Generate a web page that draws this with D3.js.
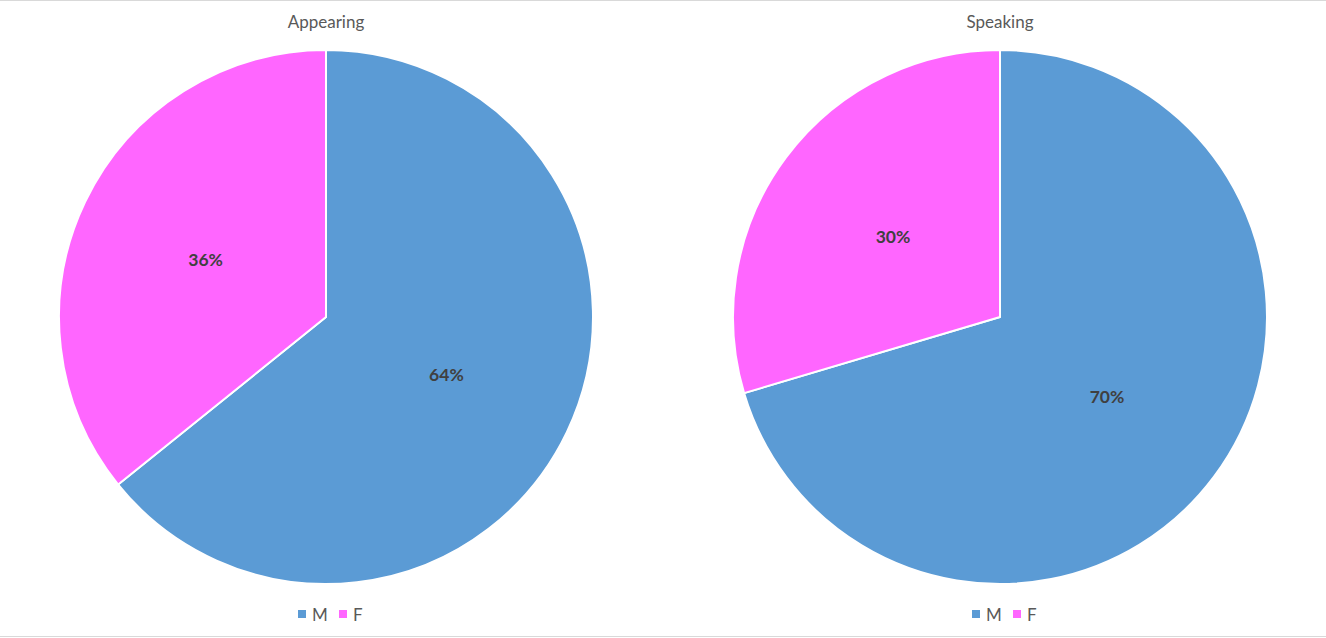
<!DOCTYPE html>
<html><head><meta charset="utf-8">
<script src="https://cdn.jsdelivr.net/npm/d3@7"></script>
<style>body{margin:0;background:#fff;}svg{display:block;font-family:Lato,"Open Sans",sans-serif;}</style>
</head><body>
<svg id="c" width="1326" height="638"></svg>
<script>
const categories = ["M", "F"];
const chartTitles = ["Appearing", "Speaking"];
const appearingValues = [64.2, 35.8];
const speakingValues = [70.4, 29.6];
const colors = ["#5B9BD5", "#FF66FF"];

const svg = d3.select("#c");
svg.append("line").attr("x1",0).attr("x2",1326).attr("y1",0.5).attr("y2",0.5).attr("stroke","#d9d9d9");
svg.append("line").attr("x1",0).attr("x2",1326).attr("y1",636.5).attr("y2",636.5).attr("stroke","#d9d9d9");

const R = 267;
const centers = [326, 1000];
const cy = 317;
const color = d3.scaleOrdinal().domain(categories).range(colors);
const pie = d3.pie().sort(null).value(d => d.v);
const arc = d3.arc().innerRadius(0).outerRadius(R);
const labelArc = d3.arc().innerRadius(R*0.5).outerRadius(R*0.5);

[appearingValues, speakingValues].forEach((vals, i) => {
  const data = categories.map((c, j) => ({c, v: vals[j]}));
  const total = d3.sum(vals);
  const g = svg.append("g").attr("transform", `translate(${centers[i]},${cy})`);
  const arcs = pie(data);
  g.selectAll("path").data(arcs).join("path")
    .attr("d", arc).attr("fill", d => color(d.data.c))
    .attr("stroke", "#fff").attr("stroke-width", 2).attr("stroke-linejoin","round");
  g.selectAll("text.lbl").data(arcs).join("text").attr("class","lbl")
    .attr("transform", d => `translate(${labelArc.centroid(d)})`)
    .attr("text-anchor","middle").attr("dy","0.35em")
    .attr("font-size",17.5).attr("font-weight","bold").attr("fill","#404040")
    .text(d => Math.round(d.data.v / total * 100) + "%");
  svg.append("text").attr("x", centers[i]).attr("y", 28).attr("text-anchor","middle")
    .attr("font-size",17).attr("fill","#595959").text(chartTitles[i]);
  // legend
  const lg = svg.append("g").attr("transform", `translate(${centers[i]-28},614)`);
  categories.forEach((c, j) => {
    const x = j * 41;
    lg.append("rect").attr("x", x).attr("y", -4).attr("width", 8).attr("height", 8).attr("fill", color(c));
    lg.append("text").attr("x", x + 14).attr("y", 1).attr("dy","0.35em")
      .attr("font-size",17).attr("fill","#595959").text(c);
  });
});
</script>
</body></html>
